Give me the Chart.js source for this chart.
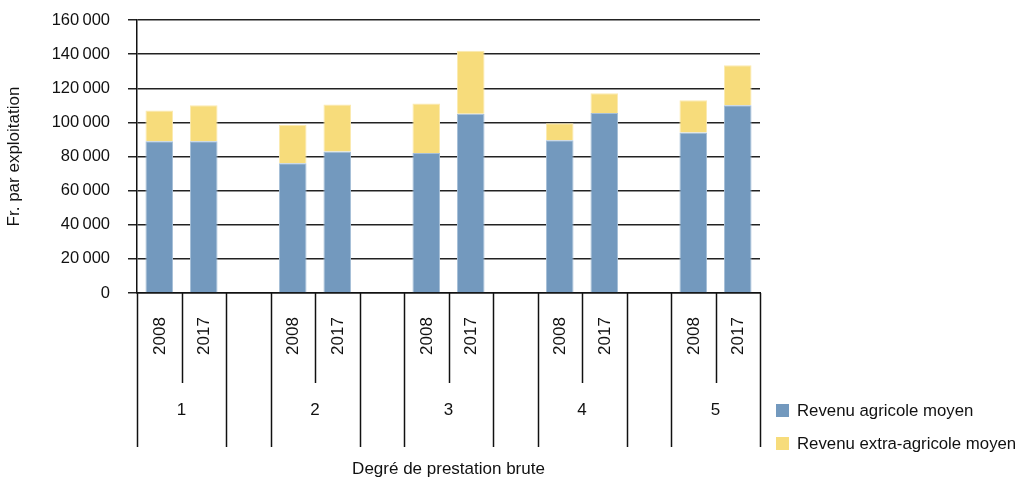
<!DOCTYPE html>
<html>
<head>
<meta charset="utf-8">
<script src="https://cdn.jsdelivr.net/npm/chart.js@4.4.1/dist/chart.umd.min.js"></script>
<style>
  html, body { margin: 0; padding: 0; background: #fff; }
  #wrap { width: 1017px; height: 479px; }
</style>
</head>
<body>
<div id="wrap"><canvas id="chart"></canvas></div>
<script>
// values
const groups = ['1', '2', '3', '4', '5'];
const years = ['2008', '2017'];
const agricole = [89000, 89000, 76000, 83000, 82000, 105000, 89500, 105500, 94000, 110000];
const extraAgricole = [18000, 21000, 22500, 27500, 29000, 37000, 10000, 11500, 19000, 23500];
const yTicks = [0, 20000, 40000, 60000, 80000, 100000, 120000, 140000, 160000];

const seriesNames = ['Revenu agricole moyen', 'Revenu extra-agricole moyen'];
const xTitle = 'Degré de prestation brute';
const yTitle = 'Fr. par exploitation';

const BLUE = '#7399be';
const YELLOW = '#f7dc7b';
const INK = '#111';
const FONT = "'Liberation Sans', Arial, sans-serif";

// build the 14 slots: 2008, 2017, (gap) per group, no gap after the last one
const labels = [];
const agriData = [];
const extraData = [];
groups.forEach((g, gi) => {
  years.forEach((y, yi) => {
    labels.push(y);
    agriData.push(agricole[gi * years.length + yi]);
    extraData.push(extraAgricole[gi * years.length + yi]);
  });
  if (gi < groups.length - 1) {
    labels.push('');
    agriData.push(null);
    extraData.push(null);
  }
});

// multi-level category axis drawn under the plot, plus titles and legend
const groupAxis = {
  id: 'groupAxis',
  afterDraw(chart) {
    const ctx = chart.ctx;
    const x = chart.scales.x;
    const area = chart.chartArea;
    const n = labels.length;
    const w = (area.right - area.left) / n;
    ctx.save();
    ctx.strokeStyle = INK;
    ctx.lineWidth = 1.5;
    for (let i = 0; i <= n; i++) {
      const px = Math.round(area.left + i * w) + 0.5;
      // boundary between the two years of a group is short
      const short = (i % 3 === 1);
      ctx.beginPath();
      ctx.moveTo(px, area.bottom);
      ctx.lineTo(px, short ? 383 : 447);
      ctx.stroke();
    }
    ctx.fillStyle = INK;
    ctx.font = '17px ' + FONT;
    ctx.textAlign = 'center';
    ctx.textBaseline = 'middle';
    labels.forEach((lab, i) => {
      if (!lab) return;
      const cx = x.getPixelForValue(i);
      ctx.save();
      ctx.translate(cx + 1, 336);
      ctx.rotate(-Math.PI / 2);
      ctx.fillText(lab, 0, 0);
      ctx.restore();
    });
    groups.forEach((g, gi) => {
      const a = x.getPixelForValue(gi * 3);
      const b = x.getPixelForValue(gi * 3 + 1);
      ctx.fillText(g, (a + b) / 2, 410);
    });
    ctx.fillText(xTitle, (area.left + area.right) / 2, 469);

    // y title
    ctx.save();
    ctx.translate(14, (area.top + area.bottom) / 2);
    ctx.rotate(-Math.PI / 2);
    ctx.fillText(yTitle, 0, 0);
    ctx.restore();

    // legend
    ctx.textAlign = 'left';
    ctx.font = '16.8px ' + FONT;
    chart.data.datasets.forEach((ds, i) => {
      const cy = 410 + i * 33;
      ctx.fillStyle = ds.backgroundColor;
      ctx.fillRect(776, cy - 6, 13, 13);
      ctx.fillStyle = INK;
      ctx.fillText(ds.label, 797, cy + 1);
    });
    ctx.restore();
  }
};

new Chart(document.getElementById('chart'), {
  type: 'bar',
  data: {
    labels: labels,
    datasets: [
      {
        label: seriesNames[0],
        data: agriData,
        backgroundColor: BLUE,
        borderColor: '#a6bfd8',
        borderWidth: 1,
        barPercentage: 0.62,
        categoryPercentage: 1,
      },
      {
        label: seriesNames[1],
        data: extraData,
        backgroundColor: YELLOW,
        borderColor: '#fbeab0',
        borderWidth: 1,
        barPercentage: 0.62,
        categoryPercentage: 1,
      },
    ],
  },
  options: {
    responsive: true,
    maintainAspectRatio: false,
    animation: false,
    layout: { padding: { left: 0, right: 257, top: 20, bottom: 0 } },
    plugins: {
      legend: { display: false },
      tooltip: { enabled: false },
    },
    scales: {
      x: {
        stacked: true,
        ticks: { display: false },
        grid: { display: false },
        border: { display: true, color: INK, width: 1.5 },
        afterFit: (s) => { s.height = 186; s.paddingLeft = 0; s.paddingRight = 0; },
      },
      y: {
        stacked: true,
        min: 0,
        max: 160000,
        afterBuildTicks: (s) => { s.ticks = yTicks.map(v => ({ value: v })); },
        ticks: {
          padding: 18,
          color: INK,
          font: { family: FONT, size: 16.5 },
          callback: (v) => {
            const s = String(v);
            return s.length > 3 ? s.slice(0, -3) + '\u2009' + s.slice(-3) : s;
          },
        },
        grid: { color: '#222', lineWidth: 1.5, tickLength: 9, drawTicks: true },
        border: { display: true, color: INK, width: 1.5 },
        afterFit: (s) => { s.width = 137; s.paddingTop = 0; s.paddingBottom = 0; },
      },
    },
  },
  plugins: [groupAxis],
});
</script>
</body>
</html>
